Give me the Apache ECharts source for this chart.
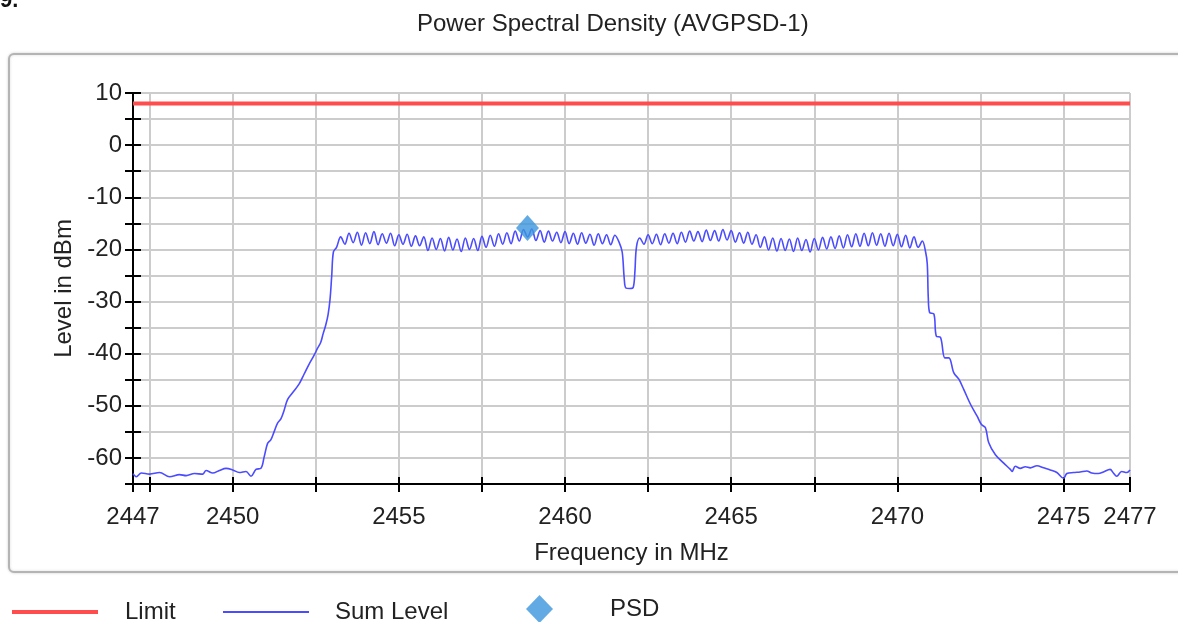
<!DOCTYPE html>
<html>
<head>
<meta charset="utf-8">
<script src="https://cdn.jsdelivr.net/npm/echarts@6/dist/echarts.min.js"></script>
<style>
html, body { margin: 0; padding: 0; background: #fff; }
#main { width: 1178px; height: 622px; }
</style>
</head>
<body>
<div id="main"></div>
<script>
// tick positions and labels
var xTicks = [2447, 2447.5, 2450, 2452.5, 2455, 2457.5, 2460, 2462.5, 2465, 2467.5, 2470, 2472.5, 2475, 2477];
var xLabels = [2447, 2450, 2455, 2460, 2465, 2470, 2475, 2477];
var yLabels = [10, 0, -10, -20, -30, -40, -50, -60];

// limit line (dBm)
var limitLevel = 8;

// PSD marker
var psdPoint = [2458.87, -15.9];

// Sum Level trace
var noiseLow = [[2447.0,-63.0],[2447.1,-63.6],[2447.25,-62.9],[2447.5,-63.1],[2447.8,-62.8],[2448.1,-63.6],[2448.4,-63.2],[2448.6,-63.4],[2448.85,-63.0],[2449.1,-63.1],[2449.2,-62.4],[2449.4,-62.9],[2449.6,-62.4],[2449.8,-62.0],[2450.0,-62.3],[2450.2,-62.8],[2450.4,-62.6],[2450.55,-63.5],[2450.7,-62.2],[2450.85,-62.0]];
var skirtLow = [[2450.95,-59.7],[2451.05,-57.2],[2451.15,-56.5],[2451.25,-54.9],[2451.35,-53.3],[2451.45,-52.5],[2451.55,-50.8],[2451.65,-48.8],[2451.8,-47.5],[2452.0,-45.8],[2452.15,-43.9],[2452.3,-42.0],[2452.45,-40.3],[2452.55,-39.0],[2452.65,-37.8],[2452.72,-36.2],[2452.8,-34.5],[2452.87,-32.5],[2452.93,-29.5],[2452.98,-25.0],[2453.03,-20.5]];
// passband sweep points, 0.125 MHz apart
var bandAStart = 2453.125;
var bandA = [-19.6,-17.6,-19.0,-16.9,-18.7,-16.7,-19.2,-16.8,-18.9,-16.6,-19.1,-17.0,-18.8,-16.9,-19.3,-17.2,-19.0,-17.1,-19.4,-17.4,-19.3,-17.6,-20.2,-17.8,-20.0,-17.9,-20.3,-17.7,-20.1,-18.0,-20.4,-17.8,-20.0,-17.9,-20.2,-17.5,-19.6,-17.3,-19.4,-17.0,-19.0,-16.8,-18.9,-16.5,-18.4,-16.2,-17.6,-16.1,-18.3,-16.4,-18.6,-16.5,-18.4,-16.7,-18.7,-16.6,-18.9,-16.9,-19.0,-16.8,-18.8,-17.1,-19.2,-17.0,-18.9,-17.2,-19.1,-17.3,-18.6];
var notch = [[2461.72,-20.5],[2461.78,-25.5],[2461.83,-27.4],[2461.95,-27.5],[2462.05,-27.3],[2462.1,-24.5],[2462.15,-19.5]];
var bandBStart = 2462.25;
var bandB = [-17.8,-19.0,-17.2,-18.9,-17.1,-19.1,-17.0,-18.8,-16.9,-18.9,-16.7,-18.6,-16.5,-18.4,-16.6,-18.5,-16.3,-18.3,-16.4,-18.4,-16.2,-18.2,-16.4,-18.6,-16.8,-18.8,-16.7,-19.0,-17.2,-19.6,-17.6,-20.1,-17.8,-20.3,-17.9,-20.2,-18.0,-20.4,-17.8,-20.2,-18.1,-20.5,-17.9,-20.1,-17.7,-19.9,-17.6,-19.8,-17.4,-19.7,-17.2,-19.5,-17.0,-19.4,-16.9,-19.3,-16.8,-19.2,-17.0,-19.4,-16.9,-19.3,-17.1,-19.5,-17.3,-19.7,-17.6,-19.6,-18.4];
var bandStep = 0.125;
var skirtHigh = [[2470.85,-20.5],[2470.9,-22.8],[2470.93,-29.2],[2470.97,-32.1],[2471.1,-32.4],[2471.17,-36.6],[2471.3,-36.9],[2471.43,-40.8],[2471.55,-40.8],[2471.7,-43.7],[2471.85,-44.9],[2472.0,-46.9],[2472.2,-49.7],[2472.4,-52.0],[2472.53,-53.6],[2472.65,-54.2],[2472.75,-57.1],[2472.95,-59.4],[2473.2,-61.0],[2473.4,-62.2]];
var noiseHigh = [[2473.45,-62.6],[2473.55,-61.6],[2473.7,-62.0],[2473.85,-61.7],[2474.0,-61.9],[2474.2,-61.5],[2474.4,-61.9],[2474.6,-62.3],[2474.8,-62.8],[2475.0,-63.9],[2475.1,-63.0],[2475.3,-62.8],[2475.5,-62.7],[2475.7,-62.5],[2475.85,-62.9],[2476.05,-63.0],[2476.2,-62.7],[2476.4,-62.2],[2476.5,-62.9],[2476.6,-63.5],[2476.75,-62.6],[2476.9,-62.8],[2477.0,-62.3]];

function sweep(start, levels) {
    return levels.map(function (v, i) { return [+(start + i * bandStep).toFixed(3), v]; });
}
var sumLevel = [].concat(noiseLow, skirtLow, sweep(bandAStart, bandA), notch, sweep(bandBStart, bandB), skirtHigh, noiseHigh);

var font = 'Liberation Sans, Arial, sans-serif';
var txt = '#222';
var fs = 24;

function plain(v) { return String(v); }

var myChart = echarts.init(document.getElementById('main'));
var option = {
    animation: false,
    backgroundColor: '#fff',
    title: {
        text: 'Power Spectral Density (AVGPSD-1)',
        left: 412,
        top: 7,
        textStyle: { fontFamily: font, fontSize: fs, fontWeight: 'normal', color: txt }
    },
    graphic: [
        {
            type: 'rect', left: 8, top: 53, z: -1,
            shape: { width: 1185, height: 518, r: 5 },
            style: { fill: '#fff', stroke: '#b4b4b4', lineWidth: 2, shadowColor: 'rgba(0,0,0,0.15)', shadowBlur: 3 }
        },
        {
            type: 'text', left: 0, top: -10,
            style: { text: '9.', font: 'bold 22px ' + font, fill: '#111' }
        }
    ],
    legend: [
        {
            left: 7, top: 595, itemWidth: 86, itemHeight: 4, icon: 'rect',
            data: ['Limit'],
            textStyle: { fontFamily: font, fontSize: fs, color: txt, padding: [0, 0, 0, 22] }
        },
        {
            left: 218, top: 595, itemWidth: 86, itemHeight: 2, icon: 'rect',
            data: ['Sum Level'],
            textStyle: { fontFamily: font, fontSize: fs, color: txt, padding: [0, 0, 0, 21] }
        },
        {
            left: 521, top: 590, itemWidth: 27, itemHeight: 28,
            data: ['PSD'],
            textStyle: { fontFamily: font, fontSize: fs, color: txt, padding: [0, 0, 0, 52] }
        }
    ],
    grid: { left: 133, right: 48, top: 93, bottom: 138 },
    xAxis: [
        {
            type: 'value', min: 2447, max: 2477, position: 'bottom',
            name: 'Frequency in MHz', nameLocation: 'middle', nameGap: 57,
            nameTextStyle: { fontFamily: font, fontSize: fs, color: txt },
            axisLine: { onZero: false, lineStyle: { color: '#000', width: 2 } },
            axisTick: { customValues: xTicks, length: 8, lineStyle: { color: '#000', width: 2 } },
            axisLabel: { customValues: xLabels, formatter: plain, margin: 21, fontFamily: font, fontSize: fs, color: txt },
            splitLine: { show: true, lineStyle: { color: '#cccccc', width: 2 } }
        },
        {
            type: 'value', min: 2447, max: 2477, position: 'bottom', offset: 0,
            axisLine: { show: false, onZero: false },
            axisTick: { customValues: xTicks, inside: true, length: 7, lineStyle: { color: '#000', width: 2 } },
            axisLabel: { show: false },
            splitLine: { show: false }
        }
    ],
    yAxis: [
        {
            type: 'value', min: -65, max: 10, interval: 5, position: 'left',
            name: 'Level in dBm', nameLocation: 'middle', nameGap: 50,
            nameTextStyle: { fontFamily: font, fontSize: fs, color: txt },
            axisLine: { show: true, onZero: false, lineStyle: { color: '#000', width: 2 } },
            axisTick: { show: true, length: 8, lineStyle: { color: '#000', width: 2 } },
            axisLabel: { customValues: yLabels, formatter: plain, margin: 11, fontFamily: font, fontSize: fs, color: txt },
            splitLine: { show: true, lineStyle: { color: '#cccccc', width: 2 } }
        },
        {
            type: 'value', min: -65, max: 10, interval: 5, position: 'left', offset: 0,
            axisLine: { show: false, onZero: false },
            axisTick: { show: true, inside: true, length: 8, lineStyle: { color: '#000', width: 2 } },
            axisLabel: { show: false },
            splitLine: { show: false }
        }
    ],
    series: [
        {
            name: 'Limit',
            type: 'line',
            showSymbol: false,
            symbol: 'none',
            data: [[2447, limitLevel], [2477, limitLevel]],
            lineStyle: { color: '#ff4d4d', width: 4 },
            itemStyle: { color: '#ff4d4d' },
            z: 3
        },
        {
            name: 'Sum Level',
            type: 'line',
            showSymbol: false,
            symbol: 'none',
            smooth: 0.35,
            data: sumLevel,
            lineStyle: { color: '#4b4bff', width: 1.6 },
            itemStyle: { color: '#4b4bff' },
            z: 4
        },
        {
            name: 'PSD',
            type: 'scatter',
            symbol: 'diamond',
            symbolSize: [23, 26],
            data: [psdPoint],
            itemStyle: { color: '#3b95dd' },
            z: 5
        }
    ]
};
myChart.setOption(option);
</script>
</body>
</html>
